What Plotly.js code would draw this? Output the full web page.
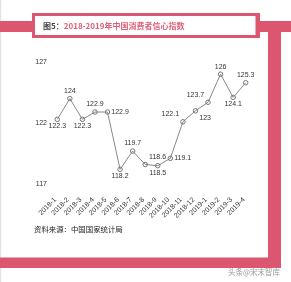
<!DOCTYPE html>
<html>
<head>
<meta charset="utf-8">
<script src="https://cdn.plot.ly/plotly-3.0.1.min.js"></script>
<style>
html,body{margin:0;padding:0;background:#fff;}
#chart{width:291px;height:282px;will-change:transform;opacity:0.999;}
</style>
</head>
<body>
<div id="chart"></div>
<script>
const months = ["2018-1","2018-2","2018-3","2018-4","2018-5","2018-6","2018-7","2018-8","2018-9","2018-10","2018-11","2018-12","2019-1","2019-2","2019-3","2019-4"];
const confidence = [122.3,124,122.3,122.9,122.9,118.2,119.7,118.6,118.5,119.1,122.1,123,123.7,126,124.1,125.3];
const labelPos = ["bottom center","top center","bottom center","top center","middle right","bottom center","top center","top right","bottom center","middle right","top left","bottom right","top left","top center","bottom center","top center"];
const yTicks = [117,122,127];

const W = 291, H = 282;
const M = {l:51, r:39, t:62, b:98};
const pw = W - M.l - M.r, ph = H - M.t - M.b;
const xp = px => (px - M.l) / pw;
const yp = py => (H - M.b - py) / ph;
const PINK = "#dc5670";

function rect(x0, y0, x1, y1, color) {
  return {type:"rect", xref:"paper", yref:"paper", x0:xp(x0), x1:xp(x1), y0:yp(y1), y1:yp(y0),
          fillcolor:color, line:{width:0}, layer:"below"};
}

const shapes = [
  rect(0, 0, 1.2, H, "#e2e2e2"),
  rect(0, 21, W, 32, PINK),
  rect(32, 13, 260, 38, PINK),
  rect(35, 16, 255.5, 35, "#ffffff"),
  rect(268, 21, 281, 268, PINK),
  rect(0, 257.5, 281, 268, PINK)
];

const annotations = [
  {xref:"paper", yref:"paper", x:xp(40.5), y:yp(25.8), xanchor:"left", yanchor:"middle", showarrow:false,
   text:"<b><span style='color:#444'>图5：</span>2018-2019年中国消费者信心指数</b>",
   font:{family:"Noto Sans CJK SC, Liberation Sans, sans-serif", size:8, color:"#e0607a"}},
  {xref:"paper", yref:"paper", x:xp(32), y:yp(228), xanchor:"left", yanchor:"middle", showarrow:false,
   text:"资料来源：中国国家统计局",
   font:{family:"Noto Sans CJK SC, sans-serif", size:7.4, color:"#222"}},
  {xref:"paper", yref:"paper", x:xp(283), y:yp(271), xanchor:"right", yanchor:"middle", showarrow:false,
   text:"头条@宋末智库",
   font:{family:"Noto Sans CJK SC, sans-serif", size:7.5, color:"#999"}}
];

const trace = {
  x: months, y: confidence, type:"scatter", mode:"lines+markers+text",
  text: confidence.map(String), textposition: labelPos,
  textfont:{family:"Liberation Sans, Arial, sans-serif", size:7, color:"#333"},
  line:{color:"#8a8a8a", width:1},
  marker:{symbol:"circle-open", size:4.5, color:"#777", line:{width:1, color:"#777"}},
  cliponaxis:false, hoverinfo:"none"
};

const layout = {
  width:W, height:H, margin:M, showlegend:false,
  paper_bgcolor:"#fff", plot_bgcolor:"rgba(0,0,0,0)",
  xaxis:{type:"category", range:[-0.5,15.5], showgrid:false, zeroline:false, showline:false,
         ticks:"", tickangle:-45, ticklabelstandoff:9, ticklabelshift:-3,
         tickfont:{family:"Liberation Sans, Arial, sans-serif", size:7, color:"#333"},
         fixedrange:true},
  yaxis:{range:[117,127], tickvals:yTicks, ticktext:yTicks.map(String), showgrid:false, zeroline:false,
         showline:false, ticks:"", ticklabelstandoff:3,
         tickfont:{family:"Liberation Sans, Arial, sans-serif", size:7, color:"#333"},
         fixedrange:true},
  shapes: shapes, annotations: annotations
};

Plotly.newPlot("chart", [trace], layout, {staticPlot:true, displayModeBar:false});
</script>
</body>
</html>
